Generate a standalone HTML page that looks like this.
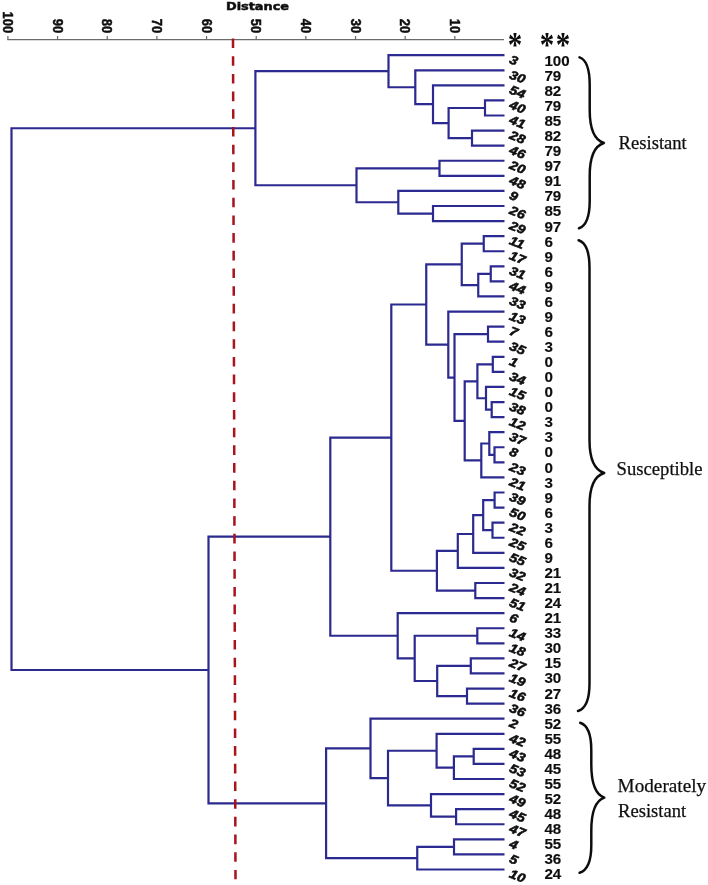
<!DOCTYPE html>
<html lang="en"><head><meta charset="utf-8"><title>Dendrogram</title>
<style>
html,body{margin:0;padding:0;background:#fff}
svg{display:block}
.ax{font-family:"Liberation Sans",sans-serif;font-weight:bold;font-size:13px;fill:#111;stroke:#111;stroke-width:0.45px}
.lf{font-family:"Liberation Sans",sans-serif;font-weight:bold;font-style:italic;font-size:12.5px;fill:#111;stroke:#111;stroke-width:0.55px}
.val{font-family:"Liberation Sans",sans-serif;font-weight:bold;font-size:14px;fill:#111;stroke:#111;stroke-width:0.15px}
.grp{font-family:"Liberation Serif",serif;font-size:18.6px;fill:#111;stroke:#111;stroke-width:0.25px}
.star{font-family:"Liberation Serif",serif;font-weight:bold;font-size:29px;fill:#111}
.ttl{font-family:"DejaVu Sans","Liberation Sans",sans-serif;font-weight:bold;font-size:11px;fill:#111;stroke:#111;stroke-width:0.5px}
</style></head><body>
<svg width="708" height="885" viewBox="0 0 708 885">
<rect width="708" height="885" fill="#fff"/>
<defs><filter id="soft" x="0" y="0" width="708" height="885" filterUnits="userSpaceOnUse"><feGaussianBlur stdDeviation="0.55"/></filter></defs>
<g filter="url(#soft)">
<g stroke="#6a6a6a" stroke-width="1.2" fill="none"><path d="M7.4 39.7H504"/><path d="M7.90 36V39.7 M57.56 36V39.7 M107.22 36V39.7 M156.88 36V39.7 M206.54 36V39.7 M256.20 36V39.7 M305.86 36V39.7 M355.52 36V39.7 M405.18 36V39.7 M454.84 36V39.7"/></g>
<text class="ax" text-anchor="end" transform="translate(3.00 33.2) rotate(90) scale(1 1.12)">100</text><text class="ax" text-anchor="end" transform="translate(52.66 33.2) rotate(90) scale(1 1.12)">90</text><text class="ax" text-anchor="end" transform="translate(102.32 33.2) rotate(90) scale(1 1.12)">80</text><text class="ax" text-anchor="end" transform="translate(151.98 33.2) rotate(90) scale(1 1.12)">70</text><text class="ax" text-anchor="end" transform="translate(201.64 33.2) rotate(90) scale(1 1.12)">60</text><text class="ax" text-anchor="end" transform="translate(251.30 33.2) rotate(90) scale(1 1.12)">50</text><text class="ax" text-anchor="end" transform="translate(300.96 33.2) rotate(90) scale(1 1.12)">40</text><text class="ax" text-anchor="end" transform="translate(350.62 33.2) rotate(90) scale(1 1.12)">30</text><text class="ax" text-anchor="end" transform="translate(400.28 33.2) rotate(90) scale(1 1.12)">20</text><text class="ax" text-anchor="end" transform="translate(449.94 33.2) rotate(90) scale(1 1.12)">10</text>
<text class="ttl" x="226" y="10.2" textLength="63" lengthAdjust="spacingAndGlyphs">Distance</text>
<path d="M504.50 100.44H485.00V115.52H504.50 M504.50 130.60H472.00V145.68H504.50 M485.00 107.98H448.60V138.14H472.00 M504.50 85.36H433.00V123.06H448.60 M504.50 70.28H415.30V104.21H433.00 M504.50 55.20H388.50V87.24H415.30 M504.50 160.76H439.50V175.84H504.50 M504.50 206.00H433.00V221.08H504.50 M504.50 190.92H398.30V213.54H433.00 M439.50 168.30H356.50V202.23H398.30 M388.50 71.22H255.40V185.26H356.50 M504.50 236.16H483.75V251.24H504.50 M504.50 266.31H490.75V281.39H504.50 M490.75 273.85H478.25V296.47H504.50 M483.75 243.70H461.75V285.16H478.25 M504.50 326.63H488.00V341.71H504.50 M504.50 356.79H492.80V371.87H504.50 M504.50 402.03H491.70V417.11H504.50 M504.50 386.95H486.00V409.57H491.70 M492.80 364.33H477.40V398.26H486.00 M504.50 447.27H494.50V462.35H504.50 M504.50 432.19H489.30V454.81H494.50 M489.30 443.50H481.30V477.43H504.50 M477.40 381.30H464.70V460.47H481.30 M488.00 334.17H454.50V420.88H464.70 M504.50 311.55H448.30V377.53H454.50 M461.75 264.43H426.25V344.54H448.30 M504.50 492.51H494.60V507.59H504.50 M504.50 522.67H492.50V537.75H504.50 M494.60 500.05H483.20V530.21H492.50 M483.20 515.13H473.20V552.83H504.50 M473.20 533.98H457.80V567.91H504.50 M504.50 582.99H475.30V598.07H504.50 M457.80 550.94H436.90V590.53H475.30 M426.25 304.49H391.30V570.73H436.90 M504.50 628.23H477.30V643.31H504.50 M504.50 658.39H470.80V673.46H504.50 M504.50 688.54H467.00V703.62H504.50 M470.80 665.93H437.20V696.08H467.00 M477.30 635.77H414.70V681.00H437.20 M504.50 613.15H397.70V658.39H414.70 M391.30 437.61H330.30V635.77H397.70 M504.50 748.86H473.70V763.94H504.50 M473.70 756.40H453.90V779.02H504.50 M504.50 733.78H436.60V767.71H453.90 M504.50 809.18H456.10V824.26H504.50 M504.50 794.10H431.00V816.72H456.10 M436.60 750.75H388.00V805.41H431.00 M504.50 718.70H370.50V778.08H388.00 M504.50 839.34H454.00V854.42H504.50 M454.00 846.88H417.25V869.50H504.50 M370.50 748.39H326.10V858.19H417.25 M330.30 536.69H208.50V803.29H326.10 M255.40 128.24H11.50V669.99H208.50" fill="none" stroke="#2b2990" stroke-width="2.2" stroke-linejoin="miter"/>
<path d="M233 38.5L235.5 879.2" stroke="#a8121f" stroke-width="2.5" stroke-dasharray="9.6 8.09" fill="none"/>
<text class="star" text-anchor="middle" transform="translate(515.1 56.7) scale(1 1.2)">*</text><text class="star" text-anchor="middle" transform="translate(546.9 56.7) scale(1 1.2)">*</text><text class="star" text-anchor="middle" transform="translate(563.1 56.7) scale(1 1.2)">*</text>
<text class="lf" transform="translate(508.6 62.80) rotate(22) scale(1.13 1)">3</text><text class="val" transform="translate(544.4 65.80) scale(1.08 1)">100</text>
<text class="lf" transform="translate(508.6 77.88) rotate(22) scale(1.13 1)">30</text><text class="val" transform="translate(544.4 80.86) scale(1.08 1)">79</text>
<text class="lf" transform="translate(508.6 92.96) rotate(22) scale(1.13 1)">54</text><text class="val" transform="translate(544.4 95.93) scale(1.08 1)">82</text>
<text class="lf" transform="translate(508.6 108.04) rotate(22) scale(1.13 1)">40</text><text class="val" transform="translate(544.4 111.00) scale(1.08 1)">79</text>
<text class="lf" transform="translate(508.6 123.12) rotate(22) scale(1.13 1)">41</text><text class="val" transform="translate(544.4 126.06) scale(1.08 1)">85</text>
<text class="lf" transform="translate(508.6 138.20) rotate(22) scale(1.13 1)">28</text><text class="val" transform="translate(544.4 141.12) scale(1.08 1)">82</text>
<text class="lf" transform="translate(508.6 153.28) rotate(22) scale(1.13 1)">46</text><text class="val" transform="translate(544.4 156.19) scale(1.08 1)">79</text>
<text class="lf" transform="translate(508.6 168.36) rotate(22) scale(1.13 1)">20</text><text class="val" transform="translate(544.4 171.25) scale(1.08 1)">97</text>
<text class="lf" transform="translate(508.6 183.44) rotate(22) scale(1.13 1)">48</text><text class="val" transform="translate(544.4 186.32) scale(1.08 1)">91</text>
<text class="lf" transform="translate(508.6 198.52) rotate(22) scale(1.13 1)">9</text><text class="val" transform="translate(544.4 201.38) scale(1.08 1)">79</text>
<text class="lf" transform="translate(508.6 213.60) rotate(22) scale(1.13 1)">26</text><text class="val" transform="translate(544.4 216.45) scale(1.08 1)">85</text>
<text class="lf" transform="translate(508.6 228.68) rotate(22) scale(1.13 1)">29</text><text class="val" transform="translate(544.4 231.51) scale(1.08 1)">97</text>
<text class="lf" transform="translate(508.6 243.76) rotate(22) scale(1.13 1)">11</text><text class="val" transform="translate(544.4 246.58) scale(1.08 1)">6</text>
<text class="lf" transform="translate(508.6 258.84) rotate(22) scale(1.13 1)">17</text><text class="val" transform="translate(544.4 261.64) scale(1.08 1)">9</text>
<text class="lf" transform="translate(508.6 273.91) rotate(22) scale(1.13 1)">31</text><text class="val" transform="translate(544.4 276.71) scale(1.08 1)">6</text>
<text class="lf" transform="translate(508.6 288.99) rotate(22) scale(1.13 1)">44</text><text class="val" transform="translate(544.4 291.77) scale(1.08 1)">9</text>
<text class="lf" transform="translate(508.6 304.07) rotate(22) scale(1.13 1)">33</text><text class="val" transform="translate(544.4 306.84) scale(1.08 1)">6</text>
<text class="lf" transform="translate(508.6 319.15) rotate(22) scale(1.13 1)">13</text><text class="val" transform="translate(544.4 321.91) scale(1.08 1)">9</text>
<text class="lf" transform="translate(508.6 334.23) rotate(22) scale(1.13 1)">7</text><text class="val" transform="translate(544.4 336.97) scale(1.08 1)">6</text>
<text class="lf" transform="translate(508.6 349.31) rotate(22) scale(1.13 1)">35</text><text class="val" transform="translate(544.4 352.04) scale(1.08 1)">3</text>
<text class="lf" transform="translate(508.6 364.39) rotate(22) scale(1.13 1)">1</text><text class="val" transform="translate(544.4 367.10) scale(1.08 1)">0</text>
<text class="lf" transform="translate(508.6 379.47) rotate(22) scale(1.13 1)">34</text><text class="val" transform="translate(544.4 382.17) scale(1.08 1)">0</text>
<text class="lf" transform="translate(508.6 394.55) rotate(22) scale(1.13 1)">15</text><text class="val" transform="translate(544.4 397.23) scale(1.08 1)">0</text>
<text class="lf" transform="translate(508.6 409.63) rotate(22) scale(1.13 1)">38</text><text class="val" transform="translate(544.4 412.30) scale(1.08 1)">0</text>
<text class="lf" transform="translate(508.6 424.71) rotate(22) scale(1.13 1)">12</text><text class="val" transform="translate(544.4 427.36) scale(1.08 1)">3</text>
<text class="lf" transform="translate(508.6 439.79) rotate(22) scale(1.13 1)">37</text><text class="val" transform="translate(544.4 442.43) scale(1.08 1)">3</text>
<text class="lf" transform="translate(508.6 454.87) rotate(22) scale(1.13 1)">8</text><text class="val" transform="translate(544.4 457.49) scale(1.08 1)">0</text>
<text class="lf" transform="translate(508.6 469.95) rotate(22) scale(1.13 1)">23</text><text class="val" transform="translate(544.4 472.56) scale(1.08 1)">0</text>
<text class="lf" transform="translate(508.6 485.03) rotate(22) scale(1.13 1)">21</text><text class="val" transform="translate(544.4 487.62) scale(1.08 1)">3</text>
<text class="lf" transform="translate(508.6 500.11) rotate(22) scale(1.13 1)">39</text><text class="val" transform="translate(544.4 502.69) scale(1.08 1)">9</text>
<text class="lf" transform="translate(508.6 515.19) rotate(22) scale(1.13 1)">50</text><text class="val" transform="translate(544.4 517.75) scale(1.08 1)">6</text>
<text class="lf" transform="translate(508.6 530.27) rotate(22) scale(1.13 1)">22</text><text class="val" transform="translate(544.4 532.81) scale(1.08 1)">3</text>
<text class="lf" transform="translate(508.6 545.35) rotate(22) scale(1.13 1)">25</text><text class="val" transform="translate(544.4 547.88) scale(1.08 1)">6</text>
<text class="lf" transform="translate(508.6 560.43) rotate(22) scale(1.13 1)">55</text><text class="val" transform="translate(544.4 562.94) scale(1.08 1)">9</text>
<text class="lf" transform="translate(508.6 575.51) rotate(22) scale(1.13 1)">32</text><text class="val" transform="translate(544.4 578.01) scale(1.08 1)">21</text>
<text class="lf" transform="translate(508.6 590.59) rotate(22) scale(1.13 1)">24</text><text class="val" transform="translate(544.4 593.07) scale(1.08 1)">21</text>
<text class="lf" transform="translate(508.6 605.67) rotate(22) scale(1.13 1)">51</text><text class="val" transform="translate(544.4 608.14) scale(1.08 1)">24</text>
<text class="lf" transform="translate(508.6 620.75) rotate(22) scale(1.13 1)">6</text><text class="val" transform="translate(544.4 623.20) scale(1.08 1)">21</text>
<text class="lf" transform="translate(508.6 635.83) rotate(22) scale(1.13 1)">14</text><text class="val" transform="translate(544.4 638.27) scale(1.08 1)">33</text>
<text class="lf" transform="translate(508.6 650.91) rotate(22) scale(1.13 1)">18</text><text class="val" transform="translate(544.4 653.33) scale(1.08 1)">30</text>
<text class="lf" transform="translate(508.6 665.99) rotate(22) scale(1.13 1)">27</text><text class="val" transform="translate(544.4 668.40) scale(1.08 1)">15</text>
<text class="lf" transform="translate(508.6 681.06) rotate(22) scale(1.13 1)">19</text><text class="val" transform="translate(544.4 683.46) scale(1.08 1)">30</text>
<text class="lf" transform="translate(508.6 696.14) rotate(22) scale(1.13 1)">16</text><text class="val" transform="translate(544.4 698.53) scale(1.08 1)">27</text>
<text class="lf" transform="translate(508.6 711.22) rotate(22) scale(1.13 1)">36</text><text class="val" transform="translate(544.4 713.59) scale(1.08 1)">36</text>
<text class="lf" transform="translate(508.6 726.30) rotate(22) scale(1.13 1)">2</text><text class="val" transform="translate(544.4 728.66) scale(1.08 1)">52</text>
<text class="lf" transform="translate(508.6 741.38) rotate(22) scale(1.13 1)">42</text><text class="val" transform="translate(544.4 743.72) scale(1.08 1)">55</text>
<text class="lf" transform="translate(508.6 756.46) rotate(22) scale(1.13 1)">43</text><text class="val" transform="translate(544.4 758.79) scale(1.08 1)">48</text>
<text class="lf" transform="translate(508.6 771.54) rotate(22) scale(1.13 1)">53</text><text class="val" transform="translate(544.4 773.85) scale(1.08 1)">45</text>
<text class="lf" transform="translate(508.6 786.62) rotate(22) scale(1.13 1)">52</text><text class="val" transform="translate(544.4 788.92) scale(1.08 1)">55</text>
<text class="lf" transform="translate(508.6 801.70) rotate(22) scale(1.13 1)">49</text><text class="val" transform="translate(544.4 803.98) scale(1.08 1)">52</text>
<text class="lf" transform="translate(508.6 816.78) rotate(22) scale(1.13 1)">45</text><text class="val" transform="translate(544.4 819.05) scale(1.08 1)">48</text>
<text class="lf" transform="translate(508.6 831.86) rotate(22) scale(1.13 1)">47</text><text class="val" transform="translate(544.4 834.11) scale(1.08 1)">48</text>
<text class="lf" transform="translate(508.6 846.94) rotate(22) scale(1.13 1)">4</text><text class="val" transform="translate(544.4 849.18) scale(1.08 1)">55</text>
<text class="lf" transform="translate(508.6 862.02) rotate(22) scale(1.13 1)">5</text><text class="val" transform="translate(544.4 864.24) scale(1.08 1)">36</text>
<text class="lf" transform="translate(508.6 877.10) rotate(22) scale(1.13 1)">10</text><text class="val" transform="translate(544.4 879.31) scale(1.08 1)">24</text>
<g fill="none" stroke="#111" stroke-width="2.5" stroke-linecap="round" stroke-linejoin="round"><path d="M579.5 57.4 C585.82 59.6 589.7 68.95 589.7 84.9 V110 C589.7 128.15 594.24 140 603.9 143 C594.24 146 589.7 157.85 589.7 176 V200.8 C589.7 216.75 585.63 226.10000000000002 579 228.3"/><path d="M578.6 240.2 C585.36 242.39999999999998 589.5 251.75 589.5 267.7 V440 C589.5 458.15 594.20 470 604.2 473 C594.20 476 589.5 487.85 589.5 506 V683.5 C589.5 699.45 585.13 708.8 578 711"/><path d="M580.2 722.8 C587.08 725.0 591.3 734.35 591.3 750.3 V764.6 C591.3 782.75 595.46 794.6 604.3 797.6 C595.46 800.6 591.3 812.45 591.3 830.6 V845.3 C591.3 861.25 586.85 870.5999999999999 579.6 872.8"/></g>
<text class="grp" x="618.6" y="149">Resistant</text>
<text class="grp" x="616.6" y="474.7" textLength="86" lengthAdjust="spacingAndGlyphs">Susceptible</text>
<text class="grp" x="617.6" y="792" textLength="88.5" lengthAdjust="spacingAndGlyphs">Moderately</text>
<text class="grp" x="618" y="817">Resistant</text>
</g>
</svg>
</body></html>
